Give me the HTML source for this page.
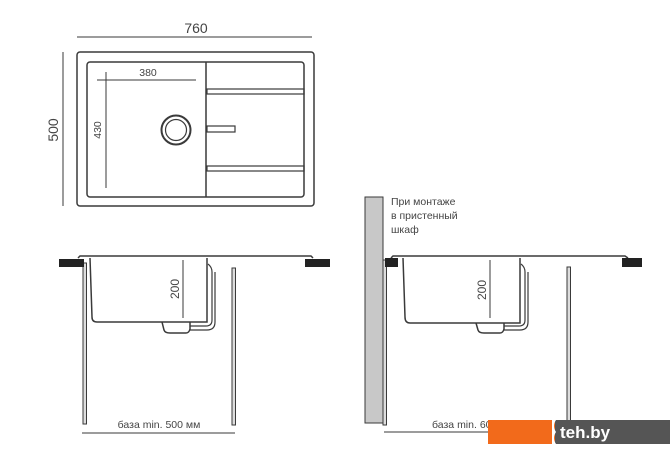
<!DOCTYPE html>
<html><head><meta charset="utf-8"><style>
html,body{margin:0;padding:0;background:#fff;width:670px;height:471px;overflow:hidden}
text{font-family:"Liberation Sans",sans-serif;fill:#444}
</style></head><body>
<svg width="670" height="471" viewBox="0 0 670 471" xmlns="http://www.w3.org/2000/svg">
<g fill="none" stroke="#3a3a3a" stroke-width="1.5">
 <line x1="77" y1="37" x2="312" y2="37" stroke-width="1"/>
 <line x1="63" y1="52" x2="63" y2="206" stroke-width="1"/>
 <rect x="77" y="52" width="237" height="154" rx="3"/>
 <rect x="87" y="62" width="217" height="135" rx="3"/>
 <line x1="206" y1="62" x2="206" y2="197"/>
 <rect x="207" y="89" width="97" height="5" stroke-width="1.2"/>
 <rect x="207" y="166" width="97" height="5" stroke-width="1.2"/>
 <rect x="207" y="126" width="28" height="6" stroke-width="1.2"/>
 <circle cx="176" cy="130" r="14.5" stroke-width="2"/>
 <circle cx="176" cy="130" r="10.5" stroke-width="1.2"/>
 <line x1="97" y1="80" x2="196" y2="80" stroke-width="1"/>
 <line x1="106" y1="72" x2="106" y2="188" stroke-width="1"/>
 <path d="M78 258 L80 256 L311 256 L313 258" />
 <path d="M90 258 L92 317 Q92 322 97 322 L207 322 L207 258"/>
 <line x1="183" y1="260" x2="183" y2="318" stroke-width="1"/>
 <path d="M162 322 L164 330 Q165 333 170 333 L186 333 Q189 333 190 329 L190 322"/>
 <path d="M190 326 L206 326 Q212 326 212 320 L212 272 Q212 267 208 264" stroke-width="1.2"/>
 <path d="M190 330 L207 330 Q215 330 215 322 L215 272" stroke-width="1.2"/>
 <rect x="83" y="263" width="3.5" height="161" fill="#ddd" stroke-width="1"/>
 <rect x="232" y="268" width="3.5" height="157" fill="#ddd" stroke-width="1"/>
 <line x1="82" y1="433" x2="235" y2="433" stroke-width="1"/>
 <rect x="365" y="197" width="18" height="226" fill="#c8c8c8" stroke-width="1"/>
 <rect x="383" y="260" width="3.5" height="165" fill="#ddd" stroke-width="1"/>
 <path d="M391 258 L393 256 L625 256 L628 258"/>
 <path d="M403 258 L405 317 Q405 323 410 323 L520 323 L520 258"/>
 <line x1="490" y1="260" x2="490" y2="318" stroke-width="1"/>
 <path d="M476 323 L478 330 Q479 333 484 333 L500 333 Q503 333 504 329 L504 323"/>
 <path d="M504 326 L519 326 Q525 326 525 320 L525 272 Q525 267 521 264" stroke-width="1.2"/>
 <path d="M504 330 L520 330 Q528 330 528 322 L528 272" stroke-width="1.2"/>
 <rect x="567" y="267" width="3.5" height="158" fill="#ddd" stroke-width="1"/>
 <line x1="384" y1="432" x2="500" y2="432" stroke-width="1"/>
</g>
<g fill="#222">
 <rect x="59" y="259" width="25" height="8"/>
 <rect x="305" y="259" width="25" height="8"/>
 <rect x="385" y="258" width="13" height="9"/>
 <rect x="622" y="258" width="20" height="9"/>
</g>
<text x="196" y="33" font-size="14" text-anchor="middle">760</text>
<text transform="translate(58,130) rotate(-90)" font-size="14" text-anchor="middle">500</text>
<text x="148" y="76" font-size="10.5" text-anchor="middle">380</text>
<text transform="translate(101,130) rotate(-90)" font-size="10.5" text-anchor="middle">430</text>
<text transform="translate(179,289) rotate(-90)" font-size="12" text-anchor="middle">200</text>
<text transform="translate(486,290) rotate(-90)" font-size="12" text-anchor="middle">200</text>
<text x="159" y="428" font-size="10.5" text-anchor="middle">база min. 500 мм</text>
<text x="432" y="428" font-size="10.5">база min. 600 мм</text>
<text x="391" y="205" font-size="10.5">При монтаже</text>
<text x="391" y="219" font-size="10.5">в пристенный</text>
<text x="391" y="233" font-size="10.5">шкаф</text>
<rect x="488" y="420" width="68" height="24" fill="#f26a1b"/>
<rect x="555" y="420" width="115" height="24" fill="#555"/>
<path d="M552 420 L556 420 Q552 426 556 432 Q552 438 556 444 L552 444 Z" fill="#fff"/>
<text x="560" y="438" font-size="17" font-weight="bold" style="fill:#fff">teh.by</text>
</svg>
</body></html>
